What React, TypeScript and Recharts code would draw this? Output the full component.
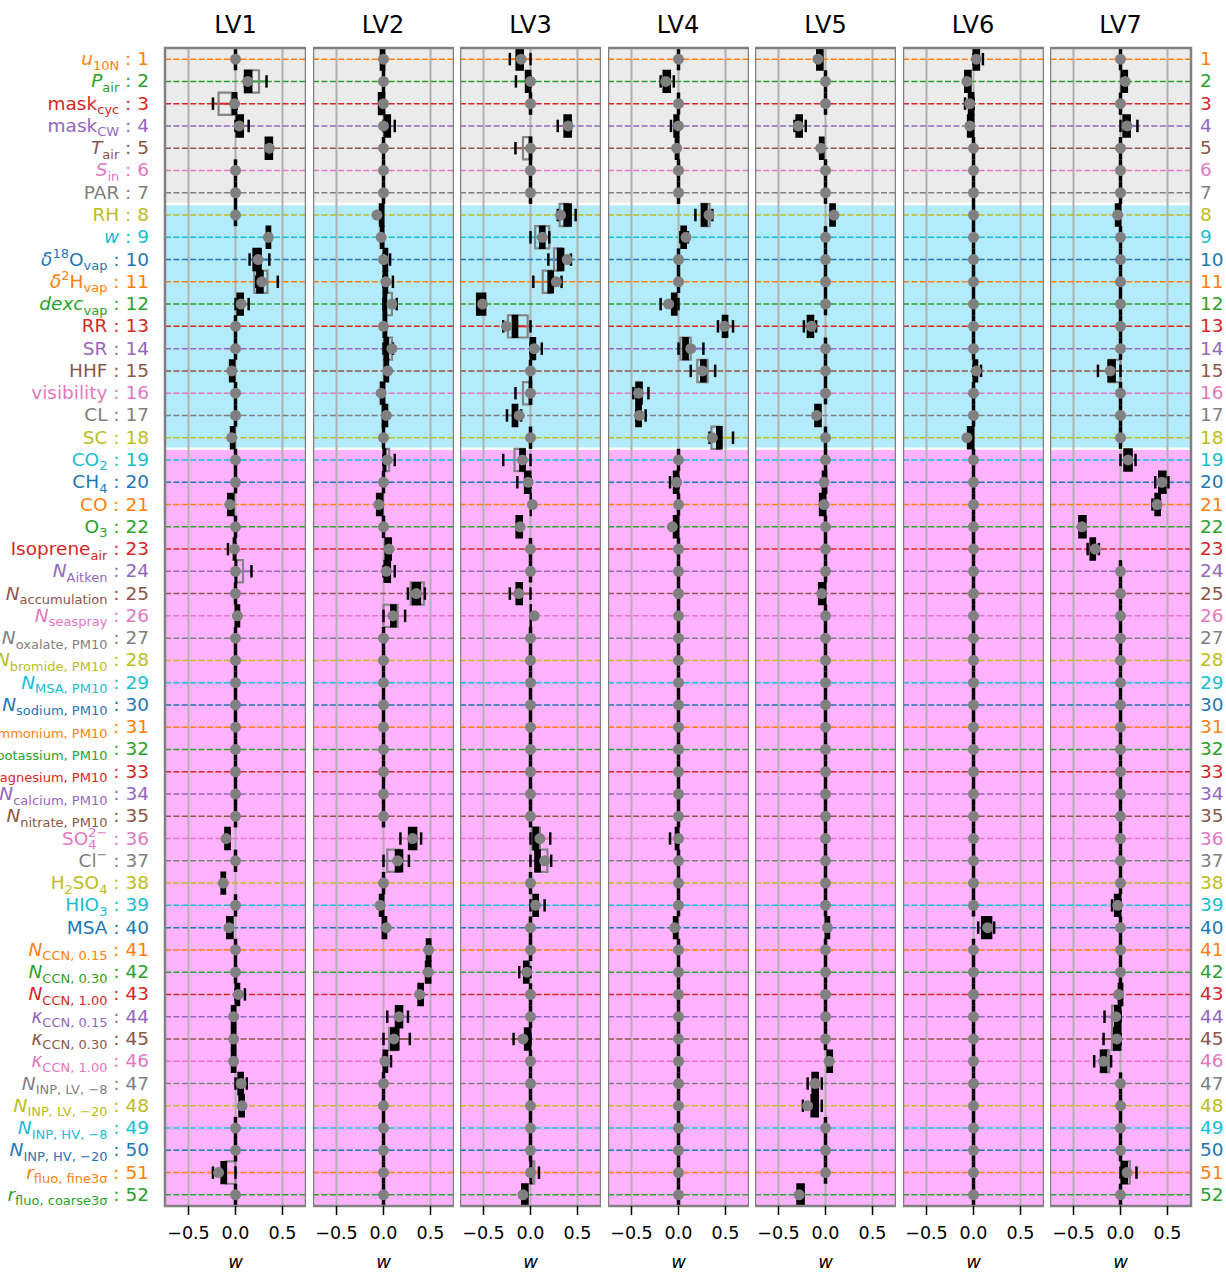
import React from 'react';
import { ComposedChart, XAxis, YAxis, Scatter, ReferenceArea, ReferenceLine } from 'recharts';

const FONT = '"DejaVu Sans", sans-serif';

const PANELS = ['LV1', 'LV2', 'LV3', 'LV4', 'LV5', 'LV6', 'LV7'];
const ROWS = Array.from({ length: 52 }, (_, i) => i + 1);
const X_DOMAIN: [number, number] = [-0.75, 0.75];
const X_TICKS = [-0.5, 0, 0.5];
const TAB10 = ['#1f77b4', '#ff7f0e', '#2ca02c', '#d62728', '#9467bd', '#8c564b', '#e377c2', '#7f7f7f', '#bcbd22', '#17becf'];

// row groups (background bands): [fromRow, toRow]
const BAND_ROWS: [number, number][] = [[1, 7], [8, 18], [19, 52]];
const BAND_COLORS = ['#ebebeb', '#b3ebfb', '#ffb3ff'];

// *x* italic, _{..} subscript, ^{..} superscript
const LABELS = [
  '*u*_{10N}', '*P*_{air}', 'mask_{cyc}', 'mask_{CW}', '*T*_{air}', '*S*_{in}', 'PAR', 'RH', '*w*',
  '*δ*^{18}O_{vap}', '*δ*^{2}H_{vap}', '*dexc*_{vap}', 'RR', 'SR', 'HHF', 'visibility', 'CL', 'SC',
  'CO_{2}', 'CH_{4}', 'CO', 'O_{3}', 'Isoprene_{air}', '*N*_{Aitken}', '*N*_{accumulation}', '*N*_{seaspray}',
  '*N*_{oxalate, PM10}', '*N*_{bromide, PM10}', '*N*_{MSA, PM10}', '*N*_{sodium, PM10}', '*N*_{ammonium, PM10}',
  '*N*_{potassium, PM10}', '*N*_{magnesium, PM10}', '*N*_{calcium, PM10}', '*N*_{nitrate, PM10}',
  'SO_{4}^{2−}', 'Cl^{−}', 'H_{2}SO_{4}', 'HIO_{3}', 'MSA',
  '*N*_{CCN, 0.15}', '*N*_{CCN, 0.30}', '*N*_{CCN, 1.00}', '*κ*_{CCN, 0.15}', '*κ*_{CCN, 0.30}', '*κ*_{CCN, 1.00}',
  '*N*_{INP, LV, −8}', '*N*_{INP, LV, −20}', '*N*_{INP, HV, −8}', '*N*_{INP, HV, −20}',
  '*r*_{fluo, fine3σ}', '*r*_{fluo, coarse3σ}',
];

// [row, median, boxLo, boxHi, whiskerLo?, whiskerHi?, grayLo?, grayHi?]; rows not listed sit at 0
type Stat = number[];

const LV1: Stat[] = [
  [2, 0.13, 0.10, 0.17, 0.10, 0.33, 0.10, 0.25],
  [3, -0.01, -0.03, 0.01, -0.24, 0.01, -0.18, -0.04],
  [4, 0.04, 0.01, 0.08, 0.0, 0.14],
  [5, 0.36, 0.32, 0.39],
  [9, 0.35, 0.33, 0.37],
  [10, 0.24, 0.19, 0.27, 0.15, 0.36],
  [11, 0.28, 0.23, 0.29, 0.22, 0.45, 0.2, 0.34],
  [12, 0.06, 0.02, 0.08, 0.0, 0.14],
  [15, -0.04, -0.06, -0.01],
  [18, -0.04, -0.05, -0.01],
  [21, -0.06, -0.08, -0.02],
  [23, -0.01, -0.02, 0.0, -0.08, 0.0],
  [24, 0.0, 0.0, 0.01, 0.0, 0.17, 0.0, 0.08],
  [26, 0.02, 0.0, 0.04],
  [36, -0.1, -0.11, -0.06],
  [38, -0.13, -0.15, -0.11],
  [40, -0.07, -0.09, -0.03],
  [43, 0.03, 0.0, 0.04, 0.0, 0.1],
  [44, -0.02, -0.04, 0.0],
  [45, -0.02, -0.04, 0.0],
  [46, -0.02, -0.04, 0.0],
  [47, 0.06, 0.03, 0.08, 0.0, 0.12],
  [48, 0.07, 0.04, 0.09],
  [51, -0.18, -0.15, -0.1, -0.24, 0.0, -0.1, 0.0],
];

const LV2: Stat[] = [
  [1, 0.0, -0.03, 0.01],
  [3, 0.0, -0.05, 0.01],
  [4, 0.0, 0.01, 0.07, 0.0, 0.12],
  [8, -0.07, -0.04, 0.0],
  [9, -0.025, -0.03, 0.0],
  [10, 0.0, 0.0, 0.04, 0.0, 0.07],
  [11, 0.025, 0.0, 0.04, 0.0, 0.1],
  [12, 0.09, 0.0, 0.03, 0.0, 0.14, 0.02, 0.09],
  [13, 0.0, 0.0, 0.03],
  [14, 0.09, 0.01, 0.05, 0.0, 0.1, 0.02, 0.09],
  [15, 0.045, 0.01, 0.05],
  [16, -0.025, -0.03, 0.01],
  [17, 0.03, -0.01, 0.04],
  [19, 0.04, 0.0, 0.02, 0.0, 0.12, 0.02, 0.06],
  [21, -0.05, -0.07, -0.01],
  [23, 0.06, 0.02, 0.08],
  [24, 0.03, 0.01, 0.07, 0.0, 0.12],
  [25, 0.35, 0.31, 0.39, 0.26, 0.44, 0.29, 0.43],
  [26, 0.1, 0.08, 0.13, 0.0, 0.23, 0.0, 0.15],
  [36, 0.31, 0.27, 0.35, 0.18, 0.4],
  [37, 0.15, 0.13, 0.2, 0.0, 0.27, 0.04, 0.17],
  [39, -0.035, -0.04, 0.0],
  [40, 0.03, -0.01, 0.03],
  [41, 0.48, 0.46, 0.5],
  [42, 0.475, 0.45, 0.5],
  [43, 0.385, 0.37, 0.42],
  [44, 0.165, 0.13, 0.2, 0.04, 0.26],
  [45, 0.11, 0.08, 0.16, 0.0, 0.28, 0.06, 0.14],
  [46, 0.015, 0.0, 0.04, 0.0, 0.08],
];

const LV3: Stat[] = [
  [1, -0.1, -0.15, -0.08, -0.22, 0.0],
  [2, 0.0, -0.05, 0.0, -0.155, 0.0],
  [4, 0.4, 0.36, 0.43, 0.29, 0.43],
  [5, 0.0, -0.01, 0.01, -0.16, 0.0, -0.08, 0.0],
  [8, 0.32, 0.36, 0.43, 0.29, 0.48, 0.31, 0.4],
  [9, 0.125, 0.1, 0.15, 0.0, 0.2, 0.05, 0.2],
  [10, 0.39, 0.29, 0.35, 0.19, 0.43, 0.25, 0.33],
  [11, 0.275, 0.19, 0.24, 0.03, 0.33, 0.13, 0.22],
  [12, -0.51, -0.57, -0.48],
  [13, -0.255, -0.19, -0.14, -0.29, 0.0, -0.24, -0.03],
  [14, 0.04, 0.0, 0.05, 0.0, 0.12],
  [16, 0.0, -0.01, 0.01, -0.16, 0.0, -0.08, 0.0],
  [17, -0.12, -0.19, -0.14, -0.25, -0.1],
  [19, -0.085, -0.11, -0.06, -0.29, 0.0, -0.17, -0.06],
  [20, -0.025, -0.06, 0.0, -0.14, 0.0],
  [21, 0.02, 0.0, 0.0],
  [22, -0.11, -0.15, -0.09],
  [25, -0.125, -0.15, -0.09, -0.22, 0.0],
  [26, 0.04, 0.0, 0.0],
  [36, 0.1, 0.03, 0.08, 0.0, 0.21, 0.02, 0.1],
  [37, 0.15, 0.05, 0.1, 0.0, 0.22, 0.06, 0.18],
  [39, 0.055, 0.03, 0.08, 0.0, 0.15],
  [42, -0.04, -0.07, -0.02, -0.12, 0.0],
  [45, -0.08, -0.06, 0.0, -0.18, 0.0],
  [51, 0.0, 0.0, 0.01, 0.0, 0.09, 0.0, 0.04],
  [52, -0.08, -0.09, -0.03],
];

const LV4: Stat[] = [
  [2, -0.135, -0.16, -0.09, -0.19, -0.05],
  [4, 0.0, -0.045, 0.0, -0.08, 0.0],
  [5, -0.02, -0.03, 0.0],
  [8, 0.325, 0.25, 0.3, 0.18, 0.36, 0.24, 0.33],
  [9, 0.08, 0.03, 0.08, 0.02, 0.1],
  [12, -0.105, -0.07, -0.02, -0.19, 0.0],
  [13, 0.49, 0.47, 0.52, 0.42, 0.58],
  [14, 0.13, 0.05, 0.1, 0.0, 0.265, 0.02, 0.13],
  [15, 0.255, 0.24, 0.29, 0.13, 0.39, 0.2, 0.31],
  [16, -0.425, -0.45, -0.39, -0.48, -0.32],
  [17, -0.415, -0.45, -0.4, -0.45, -0.35],
  [18, 0.36, 0.41, 0.46, 0.33, 0.58, 0.35, 0.44],
  [20, -0.02, -0.05, 0.0, -0.09, 0.0],
  [22, -0.065, -0.05, 0.0],
  [36, 0.0, -0.03, 0.0, -0.09, 0.0],
  [40, -0.04, -0.05, -0.01],
];

const LV5: Stat[] = [
  [1, -0.08, -0.09, -0.03],
  [4, -0.29, -0.31, -0.25, -0.33, -0.21],
  [5, -0.05, -0.06, -0.02],
  [8, 0.09, 0.05, 0.1],
  [13, -0.15, -0.19, -0.13, -0.23, -0.1],
  [17, -0.095, -0.11, -0.05],
  [20, -0.015, -0.03, 0.01],
  [21, -0.015, -0.06, 0.0],
  [25, -0.04, -0.07, 0.0],
  [40, 0.02, 0.0, 0.04],
  [46, 0.04, 0.02, 0.07],
  [47, -0.11, -0.14, -0.08, -0.19, -0.04],
  [48, -0.19, -0.15, -0.08, -0.24, -0.04],
  [52, -0.28, -0.3, -0.23],
];

const LV6: Stat[] = [
  [1, 0.03, 0.0, 0.06, 0.0, 0.1],
  [2, -0.07, -0.09, -0.03],
  [3, -0.04, -0.05, 0.0, -0.09, 0.0],
  [4, -0.04, -0.06, 0.0],
  [15, 0.03, 0.0, 0.04, 0.0, 0.08],
  [18, -0.07, -0.06, 0.0],
  [40, 0.15, 0.09, 0.19, 0.05, 0.22],
];

const LV7: Stat[] = [
  [2, 0.05, 0.01, 0.07],
  [4, 0.07, 0.03, 0.1, 0.0, 0.18],
  [8, -0.03, -0.05, 0.0],
  [15, -0.11, -0.13, -0.06, -0.24, 0.0, -0.12, 0.0],
  [19, 0.08, 0.04, 0.12, 0.0, 0.16],
  [20, 0.44, 0.41, 0.48, 0.37, 0.51],
  [21, 0.39, 0.37, 0.42, 0.34, 0.42],
  [22, -0.41, -0.44, -0.37],
  [23, -0.27, -0.32, -0.27, -0.35, -0.23],
  [39, -0.03, -0.06, 0.0, -0.09, 0.0],
  [43, -0.02, -0.02, 0.02],
  [44, -0.05, -0.06, 0.0, -0.17, 0.0, -0.09, -0.02],
  [45, -0.04, -0.07, 0.0, -0.18, 0.0, -0.09, -0.01],
  [46, -0.18, -0.21, -0.15, -0.28, -0.1, -0.2, -0.12],
  [51, 0.07, 0.01, 0.07, 0.0, 0.17, 0.02, 0.1],
];

const PANEL_STATS = [LV1, LV2, LV3, LV4, LV5, LV6, LV7];

const PLOT_LEFT0 = 165;
const PANEL_STEP = 147.5;
const PLOT_W = 141;
const PLOT_TOP = 48;
const CHART_H = 1272;
const XAXIS_H = 66;

const rowColor = (r: number) => TAB10[r % 10];
const fmt = (v: number) => (v < 0 ? '\u2212' + Math.abs(v).toFixed(1) : v.toFixed(1));

type Seg = { text: string; italic: boolean; level: number };

function parseLabel(s: string): Seg[] {
  const segs: Seg[] = [];
  let italic = false;
  let buf = '';
  let i = 0;
  const flush = () => {
    if (buf) segs.push({ text: buf, italic, level: 0 });
    buf = '';
  };
  while (i < s.length) {
    const c = s[i];
    if (c === '*') {
      flush();
      italic = !italic;
      i++;
    } else if ((c === '_' || c === '^') && s[i + 1] === '{') {
      flush();
      const end = s.indexOf('}', i);
      segs.push({ text: s.slice(i + 2, end), italic: false, level: c === '_' ? -1 : 1 });
      i = end + 1;
    } else {
      buf += c;
      i++;
    }
  }
  flush();
  return segs;
}

const LABEL_SIZE = 18.5;
const SMALL_SIZE = 13;

function RichLabel({ x, y, r, anchor, text }: { x: number; y: number; r: number; anchor: 'start' | 'end'; text: string }) {
  const segs = parseLabel(text);
  let cur = 0;
  return (
    <text x={x} y={y + 6} textAnchor={anchor} fill={rowColor(r)} fontSize={LABEL_SIZE} fontFamily={FONT}>
      {segs.map((sg, k) => {
        const target = sg.level === -1 ? 4.5 : sg.level === 1 ? -7.5 : 0;
        const dy = target - cur;
        cur = target;
        const prev = segs[k - 1];
        const dx = sg.level === 1 && prev && prev.level === -1 ? -prev.text.length * 0.636 * SMALL_SIZE : 0;
        return (
          <tspan key={k} dx={dx || undefined} dy={dy || undefined} fontSize={sg.level ? SMALL_SIZE : LABEL_SIZE} fontStyle={sg.italic ? 'italic' : 'normal'}>
            {sg.text}
          </tspan>
        );
      })}
      <tspan dy={-cur || undefined}>{' : ' + r}</tspan>
    </text>
  );
}

const LeftTick = (props: any) => (
  <RichLabel x={149} y={props.y} r={props.payload.value} anchor="end" text={LABELS[props.payload.value - 1]} />
);

const RightTick = (props: any) => {
  const r = props.payload.value;
  return (
    <text x={PLOT_W + 9} y={props.y + 6} textAnchor="start" fill={rowColor(r)} fontSize={LABEL_SIZE} fontFamily={FONT}>
      {String(r)}
    </text>
  );
};

const Dot = (props: any) => <circle cx={props.cx} cy={props.cy} r={5.5} fill="#808080" />;

function Panel({ index }: { index: number }) {
  const stats = PANEL_STATS[index];
  const isFirst = index === 0;
  const isLast = index === PANELS.length - 1;
  const plotLeft = PLOT_LEFT0 + index * PANEL_STEP;
  const yAxisW = isFirst ? PLOT_LEFT0 : isLast ? 36 : 0;
  const chartLeft = isFirst ? 0 : plotLeft;
  const width = PLOT_W + yAxisW;

  const byRow = new Map<number, Stat>();
  stats.forEach((s) => byRow.set(s[0], s));
  const points = ROWS.map((r) => ({ x: byRow.has(r) ? byRow.get(r)![1] : 0, y: r }));

  const whiskers = stats.filter((s) => s.length >= 6);
  const grays = stats.filter((s) => s.length >= 8);
  const zeroRows = ROWS.filter((r) => !byRow.has(r));

  return (
    <div style={{ position: 'absolute', left: chartLeft, top: 0 }}>
      <ComposedChart width={width} height={CHART_H} margin={{ top: PLOT_TOP, right: 0, bottom: 0, left: 0 }}>
        <XAxis
          dataKey="x"
          type="number"
          domain={X_DOMAIN}
          ticks={X_TICKS}
          allowDataOverflow
          tickFormatter={fmt}
          height={XAXIS_H}
          axisLine={false}
          tickSize={9}
          tickMargin={12}
          tickLine={{ stroke: '#000', strokeWidth: 1.5 }}
          tick={{ fontSize: 17.5, fill: '#000', fontFamily: FONT }}
          label={{ value: 'w', position: 'insideBottom', offset: 4, fontStyle: 'italic', fontSize: 18, fill: '#000', fontFamily: FONT }}
        />
        <YAxis
          dataKey="y"
          type="number"
          domain={[0.5, 52.5]}
          reversed
          allowDataOverflow
          ticks={ROWS}
          interval={0}
          hide={!isFirst && !isLast}
          orientation={isLast ? 'right' : 'left'}
          width={yAxisW || 1}
          axisLine={false}
          tickLine={false}
          tick={isFirst ? LeftTick : RightTick}
        />

        {BAND_ROWS.map(([a, b], k) => (
          <ReferenceArea key={'band' + k} x1={X_DOMAIN[0]} x2={X_DOMAIN[1]} y1={a - 0.5} y2={b + 0.5} fill={BAND_COLORS[k]} fillOpacity={1} stroke="none" ifOverflow="hidden" zIndex={1} />
        ))}
        {BAND_ROWS.slice(1).map(([a], k) => (
          <ReferenceLine key={'sep' + k} y={a - 0.5} stroke="#ffffff" strokeWidth={2.5} ifOverflow="hidden" zIndex={2} />
        ))}
        {X_TICKS.map((v) => (
          <ReferenceLine key={'grid' + v} x={v} stroke="#b0b0b0" strokeWidth={2} zIndex={3} />
        ))}
        {ROWS.map((r) => (
          <ReferenceLine key={'row' + r} y={r} stroke={rowColor(r)} strokeWidth={1.5} strokeDasharray="6 2.4" zIndex={4} />
        ))}
        {whiskers.map((s) => (
          <ReferenceLine key={'wh' + s[0]} segment={[{ x: s[4], y: s[0] }, { x: s[5], y: s[0] }]} stroke={rowColor(s[0])} strokeWidth={2} ifOverflow="hidden" zIndex={5} />
        ))}
        {grays.map((s) => (
          <ReferenceArea key={'gr' + s[0]} x1={s[6]} x2={s[7]} y1={s[0] - 0.5} y2={s[0] + 0.5} fill="none" stroke="#858585" strokeWidth={2.2} ifOverflow="hidden" zIndex={6} />
        ))}
        {whiskers.map((s) =>
          [s[4], s[5]].map((v, j) => (
            <ReferenceLine key={'cap' + s[0] + '-' + j} segment={[{ x: v, y: s[0] - 0.28 }, { x: v, y: s[0] + 0.28 }]} stroke="#000" strokeWidth={2.5} ifOverflow="hidden" zIndex={7} />
          ))
        )}
        {zeroRows.map((r) => (
          <ReferenceLine key={'z' + r} segment={[{ x: 0, y: r - 0.5 }, { x: 0, y: r + 0.5 }]} stroke="#000" strokeWidth={3.5} ifOverflow="hidden" zIndex={8} />
        ))}
        {stats.map((s) => (
          <ReferenceArea key={'bx' + s[0]} x1={s[2]} x2={s[3] > s[2] ? s[3] : s[2] + 0.005} y1={s[0] - 0.48} y2={s[0] + 0.48} fill="#000" fillOpacity={1} stroke="#000" strokeWidth={2} ifOverflow="hidden" zIndex={8} />
        ))}
        <Scatter data={points} shape={Dot} isAnimationActive={false} zIndex={9} />
        <ReferenceArea x1={X_DOMAIN[0]} x2={X_DOMAIN[1]} y1={0.5} y2={52.5} fill="none" stroke="#808080" strokeWidth={2.5} ifOverflow="visible" zIndex={10} />
      </ComposedChart>
    </div>
  );
}

export default function App() {
  return (
    <div style={{ position: 'absolute', left: 0, top: 0, width: 1226, height: 1272, background: '#fff', fontFamily: FONT }}>
      {PANELS.map((name, i) => (
        <div
          key={name}
          style={{ position: 'absolute', left: PLOT_LEFT0 + i * PANEL_STEP, top: 13, width: PLOT_W, textAlign: 'center', fontSize: 24, lineHeight: '24px', color: '#000' }}
        >
          {name}
        </div>
      ))}
      {PANELS.map((name, i) => (
        <Panel key={name} index={i} />
      ))}
    </div>
  );
}
